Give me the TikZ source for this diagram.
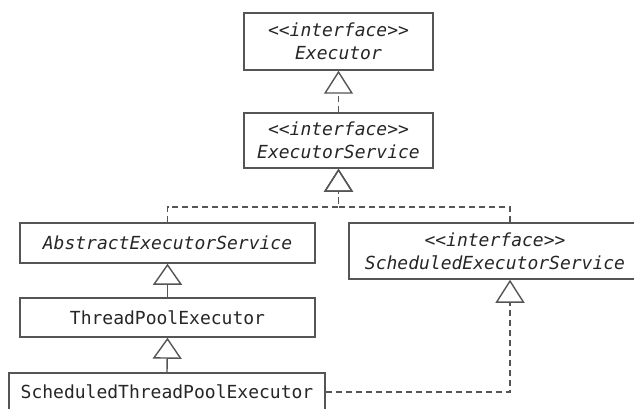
\documentclass[tikz,border=0pt]{standalone}
\usepackage{fontspec}
\setmonofont{DejaVu Sans Mono}
\usetikzlibrary{arrows.meta}
\definecolor{linec}{HTML}{555555}
\definecolor{textc}{HTML}{262626}
\tikzset{
  umlbox/.style={draw=linec, line width=1.5pt, fill=white, text=textc, align=center,
    font=\ttfamily\fontsize{18}{23}\selectfont, inner sep=0pt},
  realize/.style={draw=linec, line width=1.4pt, dash pattern=on 6pt off 4pt,
    -{Triangle[open, width=29pt, length=23pt, line width=1.4pt]}},
  inherit/.style={draw=linec, line width=1.4pt,
    -{Triangle[open, width=29pt, length=21pt, line width=1.4pt]}}
}
\begin{document}
\begin{tikzpicture}[x=1pt, y=-1pt]
\useasboundingbox (0,0) rectangle (634,409);
\clip (0,0) rectangle (634,409);
\fill[white] (0,0) rectangle (634,409);
\node[umlbox, minimum width=189pt, minimum height=57pt] (ex) at (338.5,41.5)
  {\itshape <<interface>>\\\itshape Executor};
\node[umlbox, minimum width=189pt, minimum height=55pt] (es) at (338.5,140.5)
  {\itshape <<interface>>\\\itshape ExecutorService};
\node[umlbox, minimum width=295pt, minimum height=40pt] (aes) at (167.5,243)
  {\itshape AbstractExecutorService};
\node[umlbox, minimum width=295pt, minimum height=39pt] (tpe) at (167.5,317.5)
  {ThreadPoolExecutor};
\node[umlbox, minimum width=316pt, minimum height=38pt] (stpe) at (167,392)
  {ScheduledThreadPoolExecutor};
\node[umlbox, minimum width=292pt, minimum height=56pt] (ses) at (495,251)
  {\itshape <<interface>>\\\itshape ScheduledExecutorService};
\coordinate (j) at (338.5,207);
\draw[realize] (es.north) -- (ex.south);
\draw[realize] (aes.north) |- (j) -- (es.south);
\draw[realize] ([xshift=15pt]ses.north) |- (j) -- (es.south);
\draw[inherit] (tpe.north) -- (aes.south);
\draw[inherit] (stpe.north) -- (tpe.south);
\draw[realize] (stpe.east) -| ([xshift=15pt]ses.south);
\end{tikzpicture}
\end{document}
